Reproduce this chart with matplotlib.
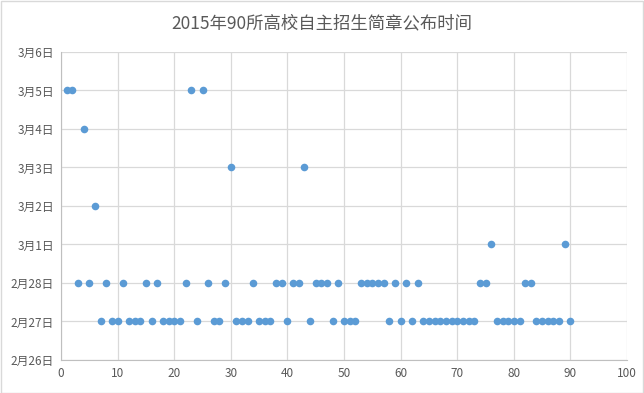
import matplotlib
matplotlib.use("Agg")
import matplotlib.pyplot as plt
import matplotlib.dates as mdates
from matplotlib.patches import Rectangle
import numpy as np

plt.rcParams['font.family'] = ['Noto Sans CJK SC', 'DejaVu Sans']

# school index 1..90 and the date each one published its admission brochure
schools = list(range(1, 91))
dates = [
    "2015-03-05", "2015-03-05", "2015-02-28", "2015-03-04", "2015-02-28",
    "2015-03-02", "2015-02-27", "2015-02-28", "2015-02-27", "2015-02-27",
    "2015-02-28", "2015-02-27", "2015-02-27", "2015-02-27", "2015-02-28",
    "2015-02-27", "2015-02-28", "2015-02-27", "2015-02-27", "2015-02-27",
    "2015-02-27", "2015-02-28", "2015-03-05", "2015-02-27", "2015-03-05",
    "2015-02-28", "2015-02-27", "2015-02-27", "2015-02-28", "2015-03-03",
    "2015-02-27", "2015-02-27", "2015-02-27", "2015-02-28", "2015-02-27",
    "2015-02-27", "2015-02-27", "2015-02-28", "2015-02-28", "2015-02-27",
    "2015-02-28", "2015-02-28", "2015-03-03", "2015-02-27", "2015-02-28",
    "2015-02-28", "2015-02-28", "2015-02-27", "2015-02-28", "2015-02-27",
    "2015-02-27", "2015-02-27", "2015-02-28", "2015-02-28", "2015-02-28",
    "2015-02-28", "2015-02-28", "2015-02-27", "2015-02-28", "2015-02-27",
    "2015-02-28", "2015-02-27", "2015-02-28", "2015-02-27", "2015-02-27",
    "2015-02-27", "2015-02-27", "2015-02-27", "2015-02-27", "2015-02-27",
    "2015-02-27", "2015-02-27", "2015-02-27", "2015-02-28", "2015-02-28",
    "2015-03-01", "2015-02-27", "2015-02-27", "2015-02-27", "2015-02-27",
    "2015-02-27", "2015-02-28", "2015-02-28", "2015-02-27", "2015-02-27",
    "2015-02-27", "2015-02-27", "2015-02-27", "2015-03-01", "2015-02-27",
]
title = "2015年90所高校自主招生简章公布时间"

y = mdates.date2num(np.array(dates, dtype="datetime64[D]"))

fig = plt.figure(figsize=(6.44, 3.93), dpi=100)
ax = fig.add_axes([0.0947, 0.084, 0.879, 0.7837])

ax.scatter(schools, y, s=30, color="#5B9BD5", zorder=3, linewidths=0)

ax.set_xlim(0, 100)
ax.set_xticks(range(0, 101, 10))
ax.set_ylim(mdates.date2num(np.datetime64("2015-02-26")),
            mdates.date2num(np.datetime64("2015-03-06")))
ax.yaxis.set_major_locator(mdates.DayLocator())
ax.yaxis.set_major_formatter(plt.FuncFormatter(
    lambda v, pos: "{}月{}日".format(mdates.num2date(v).month, mdates.num2date(v).day)))

ax.grid(True, color="#D9D9D9", linewidth=0.9)
ax.set_axisbelow(True)
for s in ["top", "right"]:
    ax.spines[s].set_visible(False)
for s in ["left", "bottom"]:
    ax.spines[s].set_color("#BFBFBF")
ax.tick_params(length=0, colors="#595959", labelsize=8.5, pad=5)

fig.text(0.5, 0.94, title, ha="center", va="center", fontsize=12.5, color="#595959")
fig.patches.append(Rectangle((0.001, 0.001), 0.997, 0.997, transform=fig.transFigure,
                             fill=False, edgecolor="#D9D9D9", linewidth=1))

fig.savefig("out.png", dpi=100)
